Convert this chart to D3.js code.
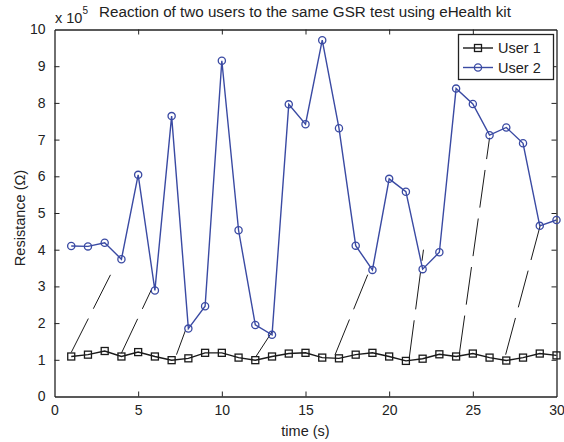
<!DOCTYPE html>
<html><head><meta charset="utf-8">
<script src="https://cdn.jsdelivr.net/npm/d3@7"></script>
<style>body{margin:0;background:#fff}svg{display:block;font-family:"Liberation Sans",Arial,sans-serif}</style>
</head><body><svg id="c" width="564" height="442"></svg>
<script>
const time = d3.range(1, 31);
const user1 = [1.09,1.14,1.24,1.09,1.21,1.09,0.99,1.04,1.19,1.19,1.06,0.99,1.09,1.17,1.19,1.06,1.04,1.14,1.19,1.09,0.97,1.03,1.15,1.09,1.17,1.06,0.98,1.06,1.17,1.12];
const user2 = [4.10,4.09,4.19,3.74,6.04,2.89,7.64,1.85,2.46,9.15,4.53,1.95,1.68,7.96,7.42,9.71,7.31,4.11,3.45,5.93,5.58,3.47,3.93,8.39,7.97,7.12,7.33,6.90,4.65,4.81];
const dashStartX = [1.0,4.0,7.29,12.04,16.77,21.2,24.2,26.96];
const dashStartY = [1.2,1.18,1.14,1.09,1.14,1.05,1.18,1.14];
const dashEndX = [3.35,5.79,7.84,13.04,18.72,22.05,26.0,29.04];
const dashEndY = [3.32,2.91,1.82,1.79,3.32,4.0,7.05,4.68];
const xTicks = [0,5,10,15,20,25,30];
const yTicks = [0,1,2,3,4,5,6,7,8,9,10];
const seriesNames = ["User 1","User 2"];

const svg = d3.select("#c");
const L=54.5, R=556.5, T=29.5, B=396.5;
const x = d3.scaleLinear().domain([0,30]).range([L,R]);
const y = d3.scaleLinear().domain([0,10]).range([B,T]);
const blue = "#3a4aa3", black = "#1a1a1a", axc = "#222";
const fs = "14px";

// dashed links
const links = dashStartX.map((d,i)=>({x1:d,y1:dashStartY[i],x2:dashEndX[i],y2:dashEndY[i]}));
svg.append("g").selectAll("line").data(links).join("line")
  .attr("x1",d=>x(d.x1)).attr("y1",d=>y(d.y1)).attr("x2",d=>x(d.x2)).attr("y2",d=>y(d.y2))
  .attr("stroke",black).attr("stroke-width",1).attr("stroke-dasharray","38,11");

// axes (box with inward ticks)
const gb = svg.append("g").attr("transform",`translate(0,${B})`).call(d3.axisBottom(x).tickValues(xTicks).tickSizeInner(-5).tickSizeOuter(0).tickPadding(9));
const gt = svg.append("g").attr("transform",`translate(0,${T})`).call(d3.axisTop(x).tickValues(xTicks).tickSizeInner(-5).tickSizeOuter(0).tickFormat(""));
const gl = svg.append("g").attr("transform",`translate(${L},0)`).call(d3.axisLeft(y).tickValues(yTicks).tickSizeInner(-5).tickSizeOuter(0).tickPadding(9));
const gr = svg.append("g").attr("transform",`translate(${R},0)`).call(d3.axisRight(y).tickValues(yTicks).tickSizeInner(-5).tickSizeOuter(0).tickFormat(""));
[gb,gt,gl,gr].forEach(g=>{
  g.selectAll("path").attr("stroke",axc).attr("stroke-width",1.3);
  g.selectAll("line").attr("stroke",axc);
  g.selectAll("text").attr("font-size",fs).attr("fill","#222").attr("font-family","Liberation Sans, Arial, sans-serif");
});
gb.selectAll(".tick").filter(d=>d===0||d===30).select("line").remove();
gt.selectAll(".tick").filter(d=>d===0||d===30).select("line").remove();
gl.selectAll(".tick").filter(d=>d===0||d===10).select("line").remove();
gr.selectAll(".tick").filter(d=>d===0||d===10).select("line").remove();

// series
const line = d3.line().x((d,i)=>x(time[i])).y(d=>y(d));
svg.append("path").datum(user1).attr("d",line).attr("fill","none").attr("stroke",black).attr("stroke-width",1.4);
svg.append("path").datum(user2).attr("d",line).attr("fill","none").attr("stroke",blue).attr("stroke-width",1.4);
svg.append("g").selectAll("rect").data(user1).join("rect")
  .attr("x",(d,i)=>x(time[i])-3.5).attr("y",d=>y(d)-3.5).attr("width",7).attr("height",7)
  .attr("fill","none").attr("stroke",black).attr("stroke-width",1.3);
svg.append("g").selectAll("circle").data(user2).join("circle")
  .attr("cx",(d,i)=>x(time[i])).attr("cy",d=>y(d)).attr("r",3.6)
  .attr("fill","none").attr("stroke",blue).attr("stroke-width",1.3);

// texts
svg.append("text").attr("x",305).attr("y",17).attr("text-anchor","middle").attr("font-size","15.2px").attr("fill","#222")
  .text("Reaction of two users to the same GSR test using eHealth kit");
const ex = svg.append("text").attr("x",55).attr("y",23).attr("font-size","14.5px").attr("fill","#222");
ex.append("tspan").text("x 10");
ex.append("tspan").attr("dy",-9).attr("font-size","10px").text("5");
svg.append("text").attr("x",(L+R)/2).attr("y",436).attr("text-anchor","middle").attr("font-size","14.5px").attr("fill","#222").text("time (s)");
svg.append("text").attr("transform",`translate(25,218) rotate(-90)`).attr("text-anchor","middle").attr("font-size","14.5px").attr("fill","#222").text("Resistance (\u03A9)");

// legend
const lg = svg.append("g");
lg.append("rect").attr("x",458.5).attr("y",34.5).attr("width",95).attr("height",45).attr("fill","#fff").attr("stroke",axc).attr("stroke-width",1.3);
const cols=[black,blue];
seriesNames.forEach((n,i)=>{
  const yy = 48 + i*19.5;
  lg.append("line").attr("x1",463).attr("x2",493).attr("y1",yy).attr("y2",yy).attr("stroke",cols[i]).attr("stroke-width",1.4);
  if(i===0) lg.append("rect").attr("x",474.5).attr("y",yy-3.5).attr("width",7).attr("height",7).attr("fill","none").attr("stroke",black).attr("stroke-width",1.3);
  else lg.append("circle").attr("cx",478).attr("cy",yy).attr("r",3.6).attr("fill","none").attr("stroke",blue).attr("stroke-width",1.3);
  lg.append("text").attr("x",498).attr("y",yy+5).attr("font-size","14.5px").attr("fill","#222").text(n);
});
</script></body></html>
